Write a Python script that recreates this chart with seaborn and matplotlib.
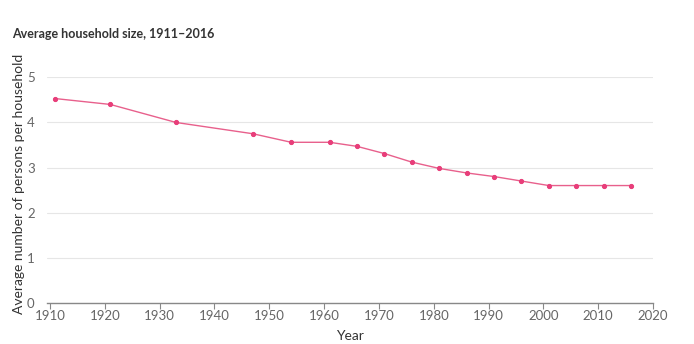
import matplotlib
matplotlib.use("Agg")
import matplotlib.pyplot as plt
import seaborn as sns
import pandas as pd

years = [1911, 1921, 1933, 1947, 1954, 1961, 1966, 1971, 1976, 1981, 1986, 1991, 1996, 2001, 2006, 2011, 2016]
sizes = [4.53, 4.40, 4.00, 3.75, 3.56, 3.56, 3.47, 3.31, 3.12, 2.98, 2.88, 2.80, 2.70, 2.60, 2.60, 2.60, 2.60]
x_ticks = list(range(1910, 2021, 10))
y_ticks = [0, 1, 2, 3, 4, 5]

df = pd.DataFrame({"Year": years, "Size": sizes})

sns.set_theme(style="white")
plt.rcParams['font.family'] = ['Lato', 'DejaVu Sans']

fig = plt.figure(figsize=(6.94, 3.44), dpi=100)
ax = fig.add_axes([0.068, 0.12, 0.873, 0.655])

line_color = "#e8608c"
marker_color = "#e83e7a"
sns.lineplot(data=df, x="Year", y="Size", ax=ax, color=line_color, linewidth=1.0,
             marker="o", markersize=3.0, markerfacecolor=marker_color,
             markeredgecolor=marker_color)

ax.set_xlim(1909.5, 2020)
ax.set_ylim(0, 5)
ax.set_xticks(x_ticks)
ax.set_yticks(y_ticks)
ax.yaxis.grid(True, color="#e6e6e6", linewidth=0.8)
ax.xaxis.grid(False)
ax.set_axisbelow(True)

for s in ["top", "right", "left"]:
    ax.spines[s].set_visible(False)
ax.spines["bottom"].set_color("#888888")
ax.spines["bottom"].set_linewidth(1.0)

ax.tick_params(axis="x", bottom=True, length=4, width=0.8, color="#888888",
               labelsize=9.5, labelcolor="#666666", pad=1)
ax.tick_params(axis="y", left=False, labelsize=9.5, labelcolor="#666666", pad=3)

ax.set_xlabel("Year", fontsize=10, color="#333333", labelpad=6)
ax.set_ylabel("Average number of persons per household", fontsize=10, color="#333333")
ax.yaxis.set_label_coords(-0.037, 0.529)

fig.text(0.017, 0.9, "Average household size, 1911\u20132016", fontsize=9,
         fontweight="bold", color="#333333", ha="left", va="center")

fig.savefig("out.png", dpi=100)
